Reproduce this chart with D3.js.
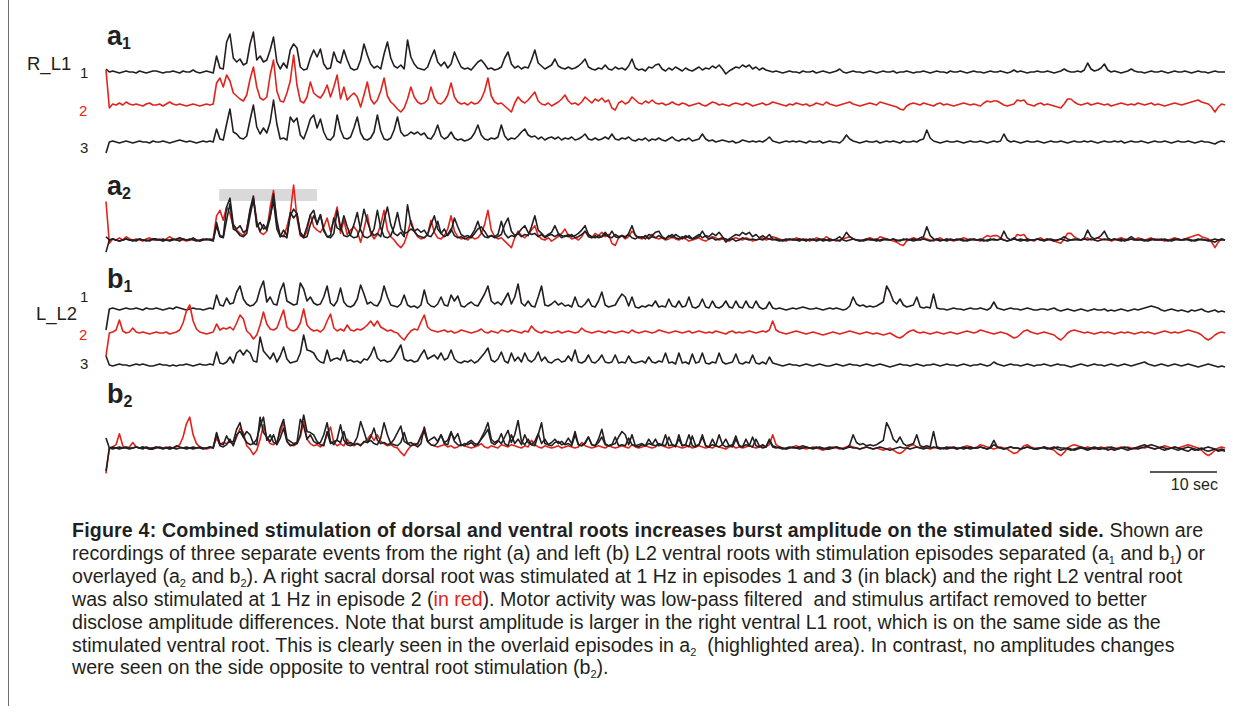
<!DOCTYPE html>
<html>
<head>
<meta charset="utf-8">
<script src="https://cdn.jsdelivr.net/npm/d3@7"></script>
<style>
body{margin:0;background:#fff}
svg{display:block}
text{font-family:"Liberation Sans",Arial,sans-serif}
</style>
</head>
<body>
<svg id="fig"></svg>
<script>
// recordings sampled every 0.5 sec, values = amplitude above baseline (arb. units)
var dt=0.5;

// a: right L1 ventral root, episodes 1-3
var a1ep1=[3,0,1,0,-1,0,1,0,0,-1,1,0,-1,0,1,1,0,-1,0,0,1,0,-1,1,0,0,2,0,-1,0,1,0,-1,
16,4,3,30,38,14,10,13,7,9,28,40,12,16,10,12,22,35,10,3,9,4,22,28,24,5,2,3,14,22,
15,23,8,3,4,20,11,9,22,12,4,2,3,12,28,17,8,4,6,3,18,30,14,6,4,7,3,32,15,8,
4,3,2,5,14,22,10,6,10,4,8,20,12,5,3,4,2,6,10,12,8,3,4,2,3,5,14,20,8,4,
6,3,5,4,12,22,9,6,3,5,7,13,6,4,3,5,3,4,6,9,13,5,3,2,4,3,7,3,2,5,
3,4,2,6,13,4,2,3,1,5,4,7,8,3,1,4,2,5,3,1,4,2,1,3,5,2,4,3,6,4,
7,3,-2,1,3,5,4,7,5,7,3,5,2,4,2,1,
0,1,0,-1,0,1,0,0,-1,1,0,0,1,-1,0,1,0,-1,0,1,3,0,-1,0,1,0,0,-1,0,1,
0,-1,0,1,0,0,1,-1,0,0,1,0,-1,0,0,1,0,-1,0,1,0,0,-1,1,0,0,1,0,-1,0,
1,0,0,-1,0,1,0,0,1,0,-1,0,2,0,1,0,-1,0,0,1,0,0,1,0,-1,0,1,3,1,0,
0,1,0,2,9,3,1,2,4,8,2,0,1,0,-1,0,1,3,1,0,0,-1,0,1,0,0,1,0,-1,0,
1,0,0,1,0,-1,0,1,0,0,-1,0,1,0,0,0];

var a1ep2=[35,-3,1,0,2,0,3,1,0,1,0,-1,1,2,0,0,1,-1,1,3,1,0,1,0,-1,0,1,0,-1,0,1,0,1,
22,27,18,30,24,12,9,6,4,10,26,38,18,7,5,8,30,45,14,4,3,12,24,50,20,4,2,8,23,12,
9,7,12,20,8,18,30,6,18,5,9,12,8,-2,10,23,6,1,5,14,27,9,3,0,-4,-7,-3,6,18,8,
3,1,2,5,18,7,2,1,4,10,22,8,3,1,2,0,3,1,2,6,14,27,9,3,1,2,-1,-4,-7,2,
8,4,2,5,9,13,4,1,0,2,-1,1,3,6,10,4,1,2,0,3,8,5,2,6,4,7,3,5,-3,-5,
2,4,1,3,8,5,2,1,4,2,5,2,1,
2,0,1,3,1,0,2,1,-1,0,1,2,0,-1,1,3,2,0,1,0,-1,1,2,1,0,2,1,-1,0,1,
2,0,1,3,2,1,0,-1,1,0,2,1,0,1,-1,0,2,1,0,3,1,0,-1,0,1,2,3,1,0,-1,
0,1,2,1,0,3,2,1,0,-1,-2,-4,-5,-1,1,2,1,0,2,1,0,-1,1,2,0,1,0,-1,0,1,
2,1,0,1,0,-1,2,4,3,4,4,2,0,-1,0,1,5,4,5,1,0,-1,1,2,0,1,0,-1,-2,-3,
1,6,6,3,1,0,1,2,0,1,2,1,0,1,-1,0,1,2,1,0,1,0,2,1,0,1,2,0,1,0,
-1,0,1,2,1,0,1,2,3,4,5,3,2,1,-2,-7,-2,1,0];

var a1ep3=[-11,0,1,0,-1,0,1,0,-1,0,1,0,0,-1,1,0,0,1,0,-1,0,1,2,1,0,1,0,-1,0,1,0,1,0,
13,3,2,18,33,10,8,4,3,6,22,37,15,8,14,9,20,42,18,3,4,2,25,20,24,7,3,12,23,27,
14,23,10,3,2,6,27,12,4,3,5,14,25,9,3,2,4,10,27,11,3,2,4,12,25,10,6,7,10,8,
10,7,9,4,3,8,17,6,3,5,10,4,2,3,1,2,4,9,17,7,3,2,4,3,5,17,6,2,4,3,
6,10,13,7,5,6,3,5,2,4,5,3,5,2,4,3,5,2,3,5,8,3,2,4,2,3,5,3,8,3,
2,4,3,5,2,1,3,2,4,1,3,2,4,
2,1,3,5,2,1,3,2,4,1,2,3,8,3,1,2,0,1,2,1,0,1,-1,0,2,1,0,1,0,1,
0,2,5,1,0,-1,0,1,0,1,0,1,0,-1,1,0,0,1,-1,0,1,0,0,-1,2,7,3,1,0,-1,
0,1,0,0,1,-1,0,1,0,1,0,-1,1,0,0,1,0,2,3,12,4,1,0,-1,0,1,0,0,1,0,
-1,0,1,0,0,1,0,-1,0,1,0,1,8,2,0,1,0,-1,0,1,0,0,1,0,-1,0,1,0,0,1,
0,-1,0,1,0,0,1,0,1,0,-1,0,1,0,0,1,0,1,-1,0,1,0,0,1,0,-1,0,1,0,0,
1,0,-1,0,1,0,0,1,0,-1,0,1,0,0,-1,-2,0,1,0];

// b: left L2 ventral root, episodes 1-3
var b1ep1=[-21,0,1,0,-1,0,1,0,0,1,0,-1,1,0,0,1,0,-1,0,1,0,2,1,0,-1,0,1,0,0,-1,0,1,0,
14,4,3,11,5,6,17,23,10,5,3,4,8,20,28,7,12,5,4,18,26,8,6,4,5,26,20,8,12,6,
4,5,12,23,6,3,8,21,7,3,2,4,10,24,15,5,7,4,3,9,23,12,4,3,2,5,14,4,2,3,
1,4,19,6,3,2,5,12,4,3,14,8,13,3,2,5,7,4,3,9,15,23,8,5,7,4,10,16,5,12,
25,6,3,8,3,2,12,23,4,3,5,8,4,6,3,4,2,12,3,2,5,10,3,2,8,17,4,2,3,4,
10,15,12,3,12,2,1,3,2,4,3,8,2,3,2,10,3,2,8,2,3,12,2,1,3,10,2,1,8,2,
1,3,8,2,1,8,2,1,8,2,1,8,2,0,1,7,1,
0,1,0,-1,0,1,0,1,2,1,0,0,1,0,-1,0,1,0,1,0,-1,0,
3,12,5,3,4,2,3,2,3,5,7,23,17,8,5,10,4,2,3,4,12,2,1,2,1,15,1,0,
0,-1,0,1,0,0,-1,0,1,0,0,1,0,-1,1,7,1,0,-1,0,1,0,0,-1,0,1,0,-1,-1,0,
0,-1,0,1,-1,-2,-1,0,-1,-2,-1,0,-1,-2,-1,0,-1,-1,0,-2,-1,-2,-1,0,-1,-2,-1,0,-1,0,
1,2,3,2,1,-1,-2,-1,0,-1,-2,-1,-2,-3,-1,-2,-1,0,-2,-3,-2,-1,-3,-2,-3];

var b1ep2=[-23,0,1,3,13,2,0,1,5,1,0,1,0,-1,0,1,0,0,1,-1,0,1,3,
10,22,28,12,4,1,0,-1,0,1,
9,3,5,4,6,3,10,18,14,2,-1,-6,-2,8,21,9,4,3,5,14,23,6,3,2,4,10,24,8,4,2,
3,1,4,12,19,5,2,4,2,8,3,2,4,3,5,8,12,7,12,6,4,2,3,1,0,-4,-7,-2,2,4,
3,11,18,6,3,2,1,
2,3,1,2,0,1,3,2,1,0,1,2,4,1,0,2,1,0,3,2,1,3,2,1,0,2,1,7,3,1,
0,2,1,0,1,2,0,1,2,1,0,1,5,2,1,0,1,2,1,0,2,1,0,1,2,1,0,3,1,0,
1,2,1,0,1,3,2,1,0,1,2,1,0,1,2,0,1,2,1,0,1,0,2,1,0,-1,1,2,0,1,
0,1,2,1,0,1,2,1,3,12,3,1,0,-1,0,1,2,1,0,-1,0,1,0,-1,-2,-1,0,1,0,-1,
0,1,2,1,0,-1,0,1,0,-1,0,-1,-2,-1,0,-2,-4,-5,-3,0,2,3,1,0,1,0,-1,0,1,0,
-1,0,1,0,-1,0,1,2,1,0,1,3,2,1,0,-1,0,1,0,-1,-3,-5,-4,-1,2,3,1,0,-1,0,
1,0,-1,-2,-5,-7,-4,0,2,3,2,1,0,1,0,-1,0,1,0,1,0,-1,0,1,0,1,0,-1,0,1,
0,1,0,-1,0,1,2,1,0,1,0,1,2,3,2,1,0,-2,-5,-7,-5,-2,0,1,0];

var b1ep3=[9,0,-1,0,1,0,0,-1,0,1,0,1,0,-1,-1,0,1,0,0,-1,0,-1,0,0,1,0,-1,0,1,0,0,1,0,
13,2,1,3,8,2,12,15,10,15,12,4,3,28,14,10,6,12,3,9,18,6,2,3,4,12,30,15,14,12,
6,3,2,15,4,6,7,5,15,4,5,3,4,2,6,5,10,18,7,4,5,3,4,8,14,20,6,4,5,3,
4,10,15,6,8,10,6,12,5,7,15,6,3,2,4,3,5,2,4,8,12,17,5,3,6,13,4,2,12,4,
8,3,12,5,3,6,13,4,8,3,2,5,6,3,4,9,4,15,3,2,4,10,3,2,5,10,3,2,3,10,
2,3,2,9,3,2,3,4,2,8,3,2,4,3,12,2,3,1,12,2,3,1,11,2,3,12,2,1,3,2,
12,3,1,2,3,11,2,1,3,2,10,2,1,3,1,8,2,
1,0,-1,0,1,0,0,-1,0,1,0,-1,0,1,0,-1,-1,0,1,0,-1,0,1,0,0,-1,0,1,0,-1,
0,1,0,-1,-2,-1,0,1,0,0,-1,0,1,0,-1,0,0,1,0,-1,0,1,0,0,-1,0,1,0,-1,0,
0,1,0,-1,0,3,1,0,-1,0,1,0,0,-1,0,1,0,-1,0,0,1,0,-1,0,1,0,0,-1,-2,-1,
0,1,0,-1,0,1,0,0,-1,0,1,0,-1,0,1,0,-1,0,1,2,3,1,0,-1,0,1,0,-1,0,1,
0,-1,0,1,0,-1,-2,-1,0,1,0,-1,-2,-1,-2];

var duration=167;          // sec shown
var highlight=[16.9,31.5]; // sec, grey bar over a2
var scaleBar=[155.8,10];   // start, length in sec

var captionLines=[
 [["Figure 4: Combined stimulation of dorsal and ventral roots increases burst amplitude on the stimulated side.","b"],[" Shown are",""]],
 [["recordings of three separate events from the right (a) and left (b) L2 ventral roots with stimulation episodes separated (a",""],["1","s"],[" and b",""],["1","s"],[") or",""]],
 [["overlayed (a",""],["2","s"],[" and b",""],["2","s"],["). A right sacral dorsal root was stimulated at 1 Hz in episodes 1 and 3 (in black) and the right L2 ventral root",""]],
 [["was also stimulated at 1 Hz in episode 2 (",""],["in red","r"],["). Motor activity was low-pass filtered  and stimulus artifact removed to better",""]],
 [["disclose amplitude differences. Note that burst amplitude is larger in the right ventral L1 root, which is on the same side as the",""]],
 [["stimulated ventral root. This is clearly seen in the overlaid episodes in a",""],["2","s"],["  (highlighted area). In contrast, no amplitudes changes",""]],
 [["were seen on the side opposite to ventral root stimulation (b",""],["2","s"],[").",""]]
];

var ink="#231f20", red="#e2231c";

var svg=d3.select("#fig").attr("width",1250).attr("height",706);
svg.append("rect").attr("width",1250).attr("height",706).attr("fill","#fff");

// page frame line on the left
svg.append("line").attr("x1",8.5).attr("x2",8.5).attr("y1",0).attr("y2",706)
  .attr("stroke","#6d6d6d").attr("stroke-width",1);

var xScale=d3.scaleLinear().domain([0,duration]).range([106,1225]);

var drawTrace=function(g,data,color,base,gain){
  var yScale=d3.scaleLinear().domain([0,10]).range([base,base-10*gain]);
  var lineGen=d3.line()
    .x(function(d,i){return xScale(i*dt);})
    .y(function(d){return yScale(d);});
  g.append("path").datum(data)
    .attr("d",lineGen)
    .attr("fill","none")
    .attr("stroke",color)
    .attr("stroke-width",1.6)
    .attr("stroke-linejoin","round");
};

var panelLabel=function(x,y,letter,sub){
  var t=svg.append("text").attr("x",x).attr("y",y)
    .attr("font-size",27).attr("font-weight","bold").attr("fill",ink);
  t.append("tspan").text(letter);
  t.append("tspan").attr("font-size",16).attr("dy",4).text(sub);
};

var chanLabel=function(x,y,txt,size,color){
  svg.append("text").attr("x",x).attr("y",y).attr("font-size",size)
    .attr("fill",color).text(txt);
};

// a1 : separated episodes
var g=svg.append("g");
panelLabel(107,45,"a","1");
chanLabel(27,70,"R_L1",18.5,ink);
chanLabel(80,78,"1",15,ink);
chanLabel(79,116,"2",15,red);
chanLabel(80,153,"3",15,ink);
drawTrace(g,a1ep1,ink,72,1);
drawTrace(g,a1ep2,red,105,1);
drawTrace(g,a1ep3,ink,142,1);

// a2 : overlaid
panelLabel(107,195,"a","2");
svg.append("rect")
  .attr("x",xScale(highlight[0])).attr("width",xScale(highlight[1])-xScale(highlight[0]))
  .attr("y",189).attr("height",12).attr("fill","#d9d9d9");
var g2=svg.append("g");
drawTrace(g2,a1ep2,red,240,1.1);
drawTrace(g2,a1ep1,ink,240,1.1);
drawTrace(g2,a1ep3,ink,240,1.1);

// b1 : separated
var g3=svg.append("g");
panelLabel(107,288,"b","1");
chanLabel(36,320,"L_L2",18.5,ink);
chanLabel(80,302,"1",15,ink);
chanLabel(79,340,"2",15,red);
chanLabel(80,369,"3",15,ink);
drawTrace(g3,b1ep1,ink,309,1);
drawTrace(g3,b1ep2,red,333,1);
drawTrace(g3,b1ep3,ink,365,1);

// b2 : overlaid
panelLabel(107,403,"b","2");
var g4=svg.append("g");
drawTrace(g4,b1ep2,red,448,1.1);
drawTrace(g4,b1ep1,ink,448,1.1);
drawTrace(g4,b1ep3,ink,448,1.1);

// time scale
svg.append("line")
  .attr("x1",xScale(scaleBar[0])).attr("x2",xScale(scaleBar[0]+scaleBar[1]))
  .attr("y1",472).attr("y2",472).attr("stroke",ink).attr("stroke-width",1.5);
svg.append("text").attr("x",xScale(scaleBar[0]+scaleBar[1])+1).attr("y",490)
  .attr("text-anchor","end").attr("font-size",16).attr("fill",ink).text("10 sec");

// caption
var cap=svg.append("g").attr("fill",ink);
captionLines.forEach(function(line,k){
  var t=cap.append("text").attr("x",72).attr("y",537+k*22.9)
    .attr("font-size",19.6).style("white-space","pre");
  var shifted=false;
  line.forEach(function(seg){
    var s=t.append("tspan").text(seg[0]);
    if(seg[1]=="b") s.attr("font-weight","bold").attr("letter-spacing",0.18);
    if(seg[1]=="r") s.attr("fill",red);
    if(seg[1]=="s"){ s.attr("font-size",11).attr("dy",4); shifted=true; }
    else if(shifted){ s.attr("dy",-4); shifted=false; }
  });
});
</script>
</body>
</html>
